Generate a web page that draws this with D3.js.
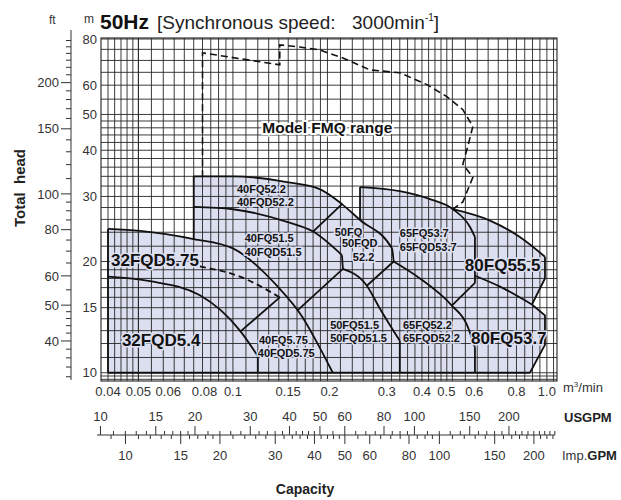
<!DOCTYPE html>
<html lang="en">
<head>
<meta charset="UTF-8">
<title>FMQ selection chart</title>
<script src="https://d3js.org/d3.v7.min.js"></script>
<style>
  body { margin: 0; background: #fff; }
  svg { font-family: "Liberation Sans", Arial, sans-serif; }
</style>
</head>
<body>
<div id="chart"></div>
<script>
// axis ticks
const capTicks = [0.04, 0.05, 0.06, 0.08, 0.1, 0.15, 0.2, 0.3, 0.4, 0.5, 0.6, 0.8, 1.0];
const capLabels = ["0.04", "0.05", "0.06", "0.08", "0.1", "0.15", "0.2", "0.3", "0.4", "0.5", "0.6", "0.8", "1.0"];
const usgpmTicks = [10, 15, 20, 30, 40, 50, 60, 80, 100, 150, 200];
const impTicks = [10, 15, 20, 30, 40, 50, 60, 80, 100, 150, 200];
const headTicks = [10, 15, 20, 30, 40, 50, 60, 80];
const ftTicks = [40, 50, 60, 80, 100, 150, 200];

// curves, [capacity m3/min, head m]
const c32_575 = [[0.04, 24.5], [0.0506, 24.2], [0.075, 23.0], [0.1, 21.7], [0.138, 17.2], [0.166, 14.2], [0.189, 11.7], [0.208, 10.0]];
const c32_54 = [[0.04, 18.2], [0.0544, 17.7], [0.0785, 16.2], [0.1053, 13.0], [0.12, 11.1]];
const c32_575ext = [[0.0785, 19.4], [0.1053, 18.2], [0.141, 16.0]];
const c40_522 = [[0.075, 34.0], [0.1, 34.0], [0.1486, 32.8], [0.189, 31.4], [0.2225, 28.6], [0.254, 25.9], [0.321, 21.7], [0.325, 20.0]];
const c40_515 = [[0.075, 28.1], [0.1, 27.7], [0.1486, 25.6], [0.18, 24.1], [0.2225, 20.8]];
const c50_515 = [[0.224, 19.1], [0.267, 17.2], [0.294, 14.9], [0.34, 12.2]];
const c65_537 = [[0.254, 31.8], [0.34, 31.0], [0.424, 29.5], [0.502, 27.7], [0.569, 24.8], [0.59, 23.3]];
const c65_522 = [[0.325, 20.0], [0.394, 18.0], [0.498, 15.2], [0.556, 13.5], [0.59, 11.7]];
const c80_555 = [[0.502, 27.7], [0.659, 25.8], [0.82, 23.3], [0.986, 20.6]];
const c80_537 = [[0.59, 18.3], [0.709, 17.1], [0.896, 15.3]];

// straight boundaries between models
const edges = [
  [[0.04, 10], [0.04, 24.5]],
  [[0.04, 10], [0.883, 10]],
  [[0.12, 11.1], [0.12, 10]],
  [[0.075, 23.0], [0.075, 34.0]],
  [[0.1053, 12.9], [0.141, 16.0]],
  [[0.160, 14.7], [0.224, 19.1]],
  [[0.18, 24.1], [0.2225, 28.6]],
  [[0.2225, 20.8], [0.224, 19.1]],
  [[0.34, 12.2], [0.34, 10]],
  [[0.254, 25.9], [0.254, 31.8]],
  [[0.325, 20.0], [0.267, 17.2]],
  [[0.59, 23.3], [0.59, 17.5]],
  [[0.59, 11.7], [0.59, 10]],
  [[0.498, 15.2], [0.59, 17.5]],
  [[0.986, 20.6], [0.986, 18.0], [0.896, 15.3], [0.986, 14.3], [0.986, 11.9], [0.883, 10]]
];

// Model FMQ range (dashed)
const fmqRange = [[0.08, 33.8], [0.08, 73.4], [0.141, 68.1], [0.141, 77.1], [0.1635, 76.1], [0.189, 74.7], [0.224, 71.1],
  [0.273, 66.0], [0.294, 65.6], [0.34, 64.8], [0.415, 60.2], [0.48, 55.9], [0.54, 51.5], [0.581, 46.4], [0.56, 41.0],
  [0.54, 36.7], [0.581, 33.8], [0.54, 29.0], [0.502, 27.7]];

// model names
const names = [
  ["32FQD5.75", 0.0409, 19.4, 1], ["32FQD5.4", 0.0443, 11.8, 1],
  ["40FQ52.2", 0.103, 30.7, 0], ["40FQD52.2", 0.103, 28.3, 0],
  ["40FQ51.5", 0.109, 22.6, 0], ["40FQD51.5", 0.109, 20.7, 0],
  ["40FQ5.75", 0.121, 12.0, 0], ["40FQD5.75", 0.12, 11.06, 0],
  ["50FQ", 0.211, 23.5, 0], ["50FQD", 0.2225, 21.9, 0], ["52.2", 0.241, 20.1, 0],
  ["65FQ53.7", 0.34, 23.3, 0], ["65FQD53.7", 0.34, 21.4, 0],
  ["80FQ55.5", 0.548, 18.9, 1],
  ["50FQ51.5", 0.204, 13.1, 0], ["50FQD51.5", 0.204, 12.1, 0],
  ["65FQ52.2", 0.348, 13.1, 0], ["65FQD52.2", 0.348, 12.1, 0],
  ["80FQ53.7", 0.573, 12.0, 1]
];

const width = 621, height = 500;
const fill = "#dcdff0";

const svg = d3.select("#chart").append("svg")
    .attr("width", width)
    .attr("height", height);

const x = d3.scaleLog().domain([0.038, 1.077]).range([101, 557]);
const y = d3.scaleLog().domain([9.5, 80.5]).range([381, 38]);

const curve = d3.line().x(d => x(d[0])).y(d => y(d[1])).curve(d3.curveMonotoneX);
const poly = d3.line().x(d => x(d[0])).y(d => y(d[1]));
const cont = s => s.replace(/^M/, "L");

// shaded envelope of all models
const upTo = (arr, lo, hi) => arr.filter(d => d[0] >= lo && d[0] <= hi);
const area = poly([[0.04, 10], [0.04, 24.5]])
  + cont(curve(upTo(c32_575, 0.04, 0.075)))
  + cont(curve(upTo(c40_522, 0.075, 0.254)))
  + cont(curve(upTo(c65_537, 0.254, 0.502)))
  + cont(curve(c80_555))
  + cont(poly(edges[edges.length - 1]))
  + "Z";
svg.append("path").attr("d", area).attr("fill", fill);

// grid
const gx = [].concat(d3.range(0.04, 0.05, 0.002), d3.range(0.05, 0.1, 0.005), d3.range(0.1, 0.2, 0.01),
  d3.range(0.2, 0.5, 0.02), d3.range(0.5, 1.07, 0.05));
const gy = [].concat([9.6, 9.8], d3.range(10, 20, 1), d3.range(20, 50, 2), d3.range(50, 81, 5));
const grid = svg.append("g").attr("stroke", "#262626").attr("stroke-width", 0.9);
grid.selectAll(".v").data(gx).join("line")
    .attr("x1", d => x(d)).attr("x2", d => x(d))
    .attr("y1", y.range()[1]).attr("y2", y.range()[0]);
grid.selectAll(".h").data(gy).join("line")
    .attr("y1", d => y(d)).attr("y2", d => y(d))
    .attr("x1", x.range()[0]).attr("x2", x.range()[1]);
svg.append("rect")
    .attr("x", x.range()[0]).attr("y", y.range()[1])
    .attr("width", x.range()[1] - x.range()[0]).attr("height", y.range()[0] - y.range()[1])
    .attr("fill", "none").attr("stroke", "#222").attr("stroke-width", 1.1);

// curves
const lines = svg.append("g").attr("fill", "none").attr("stroke", "#111").attr("stroke-width", 1.8);
[c32_575, c32_54, c40_522, c40_515, c50_515, c65_537, c65_522, c80_555, c80_537].forEach(c =>
  lines.append("path").attr("d", curve(c)));
edges.forEach(e => lines.append("path").attr("d", poly(e)));
lines.append("path").attr("d", curve(c32_575ext)).attr("stroke-dasharray", "6,4");
svg.append("path").attr("d", poly(fmqRange))
    .attr("fill", "none").attr("stroke", "#111").attr("stroke-width", 1.6)
    .attr("stroke-dasharray", "7,4");

// labels
svg.append("g").selectAll("text").data(names).join("text")
    .attr("x", d => x(d[1])).attr("y", d => y(d[2]))
    .attr("font-size", d => d[3] ? 17 : 11)
    .attr("font-weight", "bold")
    .attr("fill", "#111")
    .attr("stroke", fill).attr("stroke-width", 3).attr("paint-order", "stroke")
    .text(d => d[0]);

svg.append("text")
    .attr("x", x(0.124)).attr("y", y(44.6))
    .attr("font-size", 15.5).attr("font-weight", "bold").attr("fill", "#111")
    .attr("stroke", "#fff").attr("stroke-width", 4).attr("paint-order", "stroke")
    .text("Model FMQ range");

// head axis in m
svg.append("g").selectAll("text").data(headTicks).join("text")
    .attr("x", 97).attr("y", d => y(d)).attr("dy", "0.36em")
    .attr("text-anchor", "end").attr("font-size", 13).attr("fill", "#333")
    .text(d => d);

// head axis in ft
const ft = 3.2808;
const ftMinor = [].concat(d3.range(32, 50, 2), d3.range(50, 100, 5), d3.range(100, 270, 10))
    .filter(v => !ftTicks.includes(v) && v / ft <= 80.5);
const fax = svg.append("g").attr("stroke", "#333").attr("stroke-width", 1);
fax.append("line").attr("x1", 71).attr("x2", 71).attr("y1", 30).attr("y2", 380);
fax.selectAll(".mj").data(ftTicks).join("line")
    .attr("x1", 61).attr("x2", 71).attr("y1", d => y(d / ft)).attr("y2", d => y(d / ft));
fax.selectAll(".mn").data(ftMinor).join("line").attr("class", "mn")
    .attr("x1", 66).attr("x2", 71).attr("y1", d => y(d / ft)).attr("y2", d => y(d / ft));
svg.append("g").selectAll("text").data(ftTicks).join("text")
    .attr("x", 59).attr("y", d => y(d / ft)).attr("dy", "0.36em")
    .attr("text-anchor", "end").attr("font-size", 13).attr("fill", "#333")
    .text(d => d);

// capacity axes (a few labels are shifted on the sheet to stop them touching)
const nudge = { 0.06: 5, 0.08: 2, 0.2: 2, 0.3: 4, 0.5: -6, 0.6: -3 };
svg.append("g").selectAll("text").data(capTicks).join("text")
    .attr("x", d => x(d) + (nudge[d] || 0)).attr("y", 396)
    .attr("text-anchor", "middle").attr("font-size", 13).attr("fill", "#333")
    .text((d, i) => capLabels[i]);

const usg = 264.17, imp = 219.97;
const rulerY = 435;
const ruler = svg.append("g").attr("stroke", "#333").attr("stroke-width", 1);
ruler.append("line").attr("x1", 97).attr("x2", 555).attr("y1", rulerY).attr("y2", rulerY);
const usMinor = [].concat(d3.range(11, 20, 1), d3.range(20, 50, 2), d3.range(50, 100, 5), d3.range(100, 290, 10))
    .filter(v => !usgpmTicks.includes(v) && x(v / usg) <= 555);
const impMinor = [].concat(d3.range(9, 20, 1), d3.range(20, 50, 2), d3.range(50, 100, 5), d3.range(100, 240, 10))
    .filter(v => !impTicks.includes(v) && x(v / imp) <= 555);
ruler.selectAll(".um").data(usgpmTicks).join("line").attr("class", "um")
    .attr("x1", d => x(d / usg)).attr("x2", d => x(d / usg)).attr("y1", rulerY - 9).attr("y2", rulerY);
ruler.selectAll(".un").data(usMinor).join("line").attr("class", "un")
    .attr("x1", d => x(d / usg)).attr("x2", d => x(d / usg)).attr("y1", rulerY - 4).attr("y2", rulerY);
ruler.selectAll(".im").data(impTicks).join("line").attr("class", "im")
    .attr("x1", d => x(d / imp)).attr("x2", d => x(d / imp)).attr("y1", rulerY).attr("y2", rulerY + 9);
ruler.selectAll(".in").data(impMinor).join("line").attr("class", "in")
    .attr("x1", d => x(d / imp)).attr("x2", d => x(d / imp)).attr("y1", rulerY).attr("y2", rulerY + 4);

svg.append("g").selectAll("text").data(usgpmTicks).join("text")
    .attr("x", d => x(d / usg)).attr("y", 421)
    .attr("text-anchor", "middle").attr("font-size", 13).attr("fill", "#333")
    .text(d => d);
svg.append("g").selectAll("text").data(impTicks).join("text")
    .attr("x", d => x(d / imp)).attr("y", 460)
    .attr("text-anchor", "middle").attr("font-size", 13).attr("fill", "#333")
    .text(d => d);

// unit names
const u1 = svg.append("text").attr("x", 563).attr("y", 392).attr("font-size", 13).attr("fill", "#333");
u1.append("tspan").text("m");
u1.append("tspan").attr("dy", -5).attr("font-size", 8).text("3");
u1.append("tspan").attr("dy", 5).text("/min");
svg.append("text").attr("x", 564).attr("y", 422).attr("font-size", 13).attr("font-weight", "bold")
    .attr("fill", "#222").text("USGPM");
const u3 = svg.append("text").attr("x", 562).attr("y", 460).attr("font-size", 13).attr("fill", "#333");
u3.append("tspan").text("Imp.");
u3.append("tspan").attr("font-weight", "bold").attr("fill", "#222").text("GPM");

svg.append("text").attr("x", 305).attr("y", 494).attr("text-anchor", "middle")
    .attr("font-size", 14).attr("font-weight", "bold").attr("fill", "#222").text("Capacity");
svg.append("text").attr("transform", "translate(25,188) rotate(-90)").attr("text-anchor", "middle")
    .attr("font-size", 15).attr("font-weight", "bold").attr("fill", "#222")
    .style("white-space", "pre").text("Total  head");

// title
svg.append("text").attr("x", 49).attr("y", 24).attr("font-size", 12).attr("fill", "#333").text("ft");
svg.append("text").attr("x", 84).attr("y", 23).attr("font-size", 12).attr("fill", "#333").text("m");
svg.append("text").attr("x", 100).attr("y", 29).attr("font-size", 21).attr("font-weight", "bold")
    .attr("fill", "#111").text("50Hz");
const t = svg.append("text").attr("y", 29).attr("font-size", 19).attr("fill", "#222");
t.append("tspan").attr("x", 157).text("[Synchronous speed:");
t.append("tspan").attr("x", 352).text("3000min");
t.append("tspan").attr("dy", -8).attr("font-size", 10).text("-1");
t.append("tspan").attr("dy", 8).text("]");
</script>
</body>
</html>
